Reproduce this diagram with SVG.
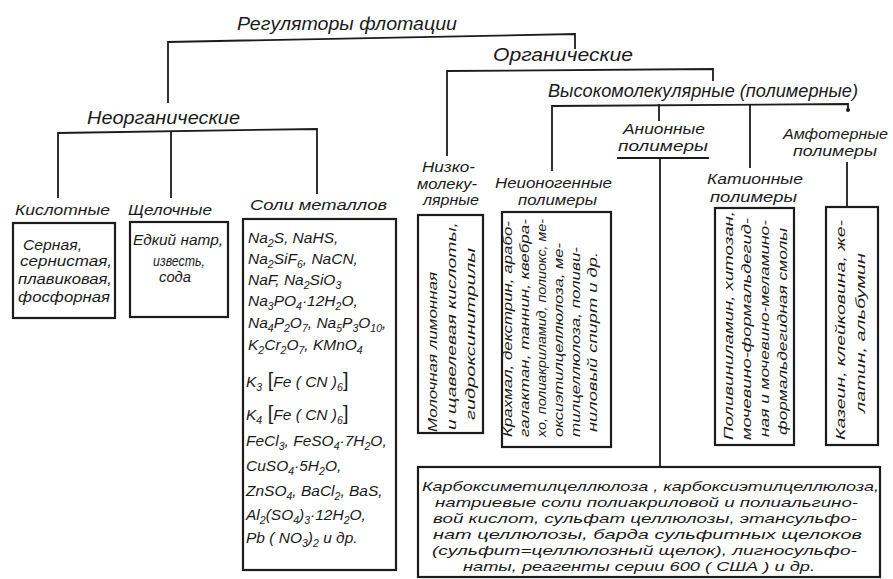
<svg xmlns="http://www.w3.org/2000/svg" width="893" height="579" viewBox="0 0 893 579">
  <style>
    .t { font-family: "Liberation Sans", "DejaVu Sans", sans-serif; font-style: italic; fill: #1a1a1a; }
    .h { font-size: 18px; }
    .m { font-size: 15px; }
    .s { font-size: 14px; }
    .b { font-size: 13px; }
    .f { font-size: 15.5px; }
    .v { font-size: 13px; }
    .sb { font-size: 10.5px; }
    .br { font-size: 20px; font-style: normal; }
    .ln { stroke: #1c1c1c; stroke-width: 1.8; fill: none; stroke-linecap: square; }
    .box { stroke: #1c1c1c; stroke-width: 2.2; fill: none; }
  </style>
  <rect width="893" height="579" fill="#ffffff"/>

  <!-- connectors -->
  <g id="connectors">
    <!-- root bracket -->
    <polyline class="ln" points="168,102 168,42 575,34 575,48"/>
    <!-- inorganic bracket -->
    <polyline class="ln" points="58,197 58,133 317,129 317,193"/>
    <line class="ln" x1="171" y1="132" x2="171" y2="197"/>
    <!-- organic bracket -->
    <polyline class="ln" points="447,155 447,71 713,69 713,80"/>
    <!-- high-molecular bracket -->
    <polyline class="ln" points="552,170 552,106 848,104 848,110"/>
    <line class="ln" x1="659" y1="105" x2="659" y2="120"/>
    <line class="ln" x1="750" y1="105" x2="750" y2="167"/>
    <circle cx="848" cy="110" r="2" fill="#1c1c1c"/>
    <!-- anionic underline and stem -->
    <line class="ln" x1="618" y1="158" x2="708" y2="158"/>
    <line class="ln" x1="660" y1="158" x2="660" y2="467"/>
    <!-- amphoteric stem -->
    <line class="ln" x1="847" y1="163" x2="847" y2="207"/>
  </g>

  <!-- headings -->
  <g id="root">
    <text class="t h" x="237" y="30" textLength="220" lengthAdjust="spacingAndGlyphs">Регуляторы   флотации</text>
  </g>
  <g id="inorganic">
    <text class="t h" x="87" y="124" textLength="153" lengthAdjust="spacingAndGlyphs">Неорганические</text>
  </g>
  <g id="organic">
    <text class="t h" x="493" y="61" textLength="140" lengthAdjust="spacingAndGlyphs">Органические</text>
  </g>
  <g id="highmol">
    <text class="t h" x="548" y="97" textLength="310" lengthAdjust="spacingAndGlyphs">Высокомолекулярные (полимерные)</text>
  </g>

  <!-- acids -->
  <g id="acids">
    <text class="t m" x="15" y="215" textLength="95" lengthAdjust="spacingAndGlyphs">Кислотные</text>
    <rect class="box" x="13" y="223" width="102" height="95"/>
    <text class="t s" x="23" y="250" textLength="59" lengthAdjust="spacingAndGlyphs">Серная,</text>
    <text class="t s" x="20" y="266" textLength="92" lengthAdjust="spacingAndGlyphs">сернистая,</text>
    <text class="t s" x="18" y="284" textLength="94" lengthAdjust="spacingAndGlyphs">плавиковая,</text>
    <text class="t s" x="18" y="302" textLength="92" lengthAdjust="spacingAndGlyphs">фосфорная</text>
  </g>

  <!-- alkalis -->
  <g id="alkalis">
    <text class="t m" x="128" y="215" textLength="84" lengthAdjust="spacingAndGlyphs">Щелочные</text>
    <rect class="box" x="130" y="222" width="98" height="95"/>
    <text class="t s" x="133" y="245" textLength="90" lengthAdjust="spacingAndGlyphs">Едкий натр,</text>
    <text class="t s" x="153" y="266" textLength="52" lengthAdjust="spacingAndGlyphs">известь,</text>
    <text class="t s" x="159" y="282" textLength="32" lengthAdjust="spacingAndGlyphs">сода</text>
  </g>

  <!-- metal salts -->
  <g id="salts">
    <text class="t m" x="250" y="210" textLength="137" lengthAdjust="spacingAndGlyphs">Соли металлов</text>
    <rect class="box" x="243" y="219" width="153" height="351"/>
    <text class="t f" x="248" y="243">Na<tspan class="sb" dy="4">2</tspan><tspan dy="-4">S, NaHS,</tspan></text>
    <text class="t f" x="248" y="264">Na<tspan class="sb" dy="4">2</tspan><tspan dy="-4">SiF</tspan><tspan class="sb" dy="4">6</tspan><tspan dy="-4">, NaCN,</tspan></text>
    <text class="t f" x="248" y="285">NaF, Na<tspan class="sb" dy="4">2</tspan><tspan dy="-4">SiO</tspan><tspan class="sb" dy="4">3</tspan></text>
    <text class="t f" x="248" y="306">Na<tspan class="sb" dy="4">3</tspan><tspan dy="-4">PO</tspan><tspan class="sb" dy="4">4</tspan><tspan dy="-4">·12H</tspan><tspan class="sb" dy="4">2</tspan><tspan dy="-4">O,</tspan></text>
    <text class="t f" x="248" y="328">Na<tspan class="sb" dy="4">4</tspan><tspan dy="-4">P</tspan><tspan class="sb" dy="4">2</tspan><tspan dy="-4">O</tspan><tspan class="sb" dy="4">7</tspan><tspan dy="-4">, Na</tspan><tspan class="sb" dy="4">5</tspan><tspan dy="-4">P</tspan><tspan class="sb" dy="4">3</tspan><tspan dy="-4">O</tspan><tspan class="sb" dy="4">10</tspan><tspan dy="-4">,</tspan></text>
    <text class="t f" x="248" y="350">K<tspan class="sb" dy="4">2</tspan><tspan dy="-4">Cr</tspan><tspan class="sb" dy="4">2</tspan><tspan dy="-4">O</tspan><tspan class="sb" dy="4">7</tspan><tspan dy="-4">, KMnO</tspan><tspan class="sb" dy="4">4</tspan></text>
    <text class="t f" x="246" y="387">K<tspan class="sb" dy="4">3</tspan><tspan dy="-4" class="br"> [</tspan><tspan>Fe ( CN )</tspan><tspan class="sb" dy="4">6</tspan><tspan dy="-4" class="br">]</tspan></text>
    <text class="t f" x="246" y="420">K<tspan class="sb" dy="4">4</tspan><tspan dy="-4" class="br"> [</tspan><tspan>Fe ( CN )</tspan><tspan class="sb" dy="4">6</tspan><tspan dy="-4" class="br">]</tspan></text>
    <text class="t f" x="246" y="446">FeCl<tspan class="sb" dy="4">3</tspan><tspan dy="-4">, FeSO</tspan><tspan class="sb" dy="4">4</tspan><tspan dy="-4">·7H</tspan><tspan class="sb" dy="4">2</tspan><tspan dy="-4">O,</tspan></text>
    <text class="t f" x="246" y="471">CuSO<tspan class="sb" dy="4">4</tspan><tspan dy="-4">·5H</tspan><tspan class="sb" dy="4">2</tspan><tspan dy="-4">O,</tspan></text>
    <text class="t f" x="246" y="496">ZnSO<tspan class="sb" dy="4">4</tspan><tspan dy="-4">, BaCl</tspan><tspan class="sb" dy="4">2</tspan><tspan dy="-4">, BaS,</tspan></text>
    <text class="t f" x="246" y="520">Al<tspan class="sb" dy="4">2</tspan><tspan dy="-4">(SO</tspan><tspan class="sb" dy="4">4</tspan><tspan dy="-4">)</tspan><tspan class="sb" dy="4">3</tspan><tspan dy="-4">·12H</tspan><tspan class="sb" dy="4">2</tspan><tspan dy="-4">O,</tspan></text>
    <text class="t f" x="246" y="543">Pb ( NO<tspan class="sb" dy="4">3</tspan><tspan dy="-4">)</tspan><tspan class="sb" dy="4">2</tspan><tspan dy="-4"> и  др.</tspan></text>
  </g>

  <!-- low-molecular -->
  <g id="lowmol">
    <text class="t s" x="422" y="172" textLength="53" lengthAdjust="spacingAndGlyphs">Низко-</text>
    <text class="t s" x="417" y="189" textLength="60" lengthAdjust="spacingAndGlyphs">молеку-</text>
    <text class="t s" x="423" y="205" textLength="56" lengthAdjust="spacingAndGlyphs">лярные</text>
    <rect class="box" x="418" y="215" width="65" height="218"/>
    <text class="t v" transform="translate(437,432) rotate(-90)" textLength="160" lengthAdjust="spacingAndGlyphs">Молочная   лимонная</text>
    <text class="t v" transform="translate(456,430) rotate(-90)" textLength="208" lengthAdjust="spacingAndGlyphs">и щавелевая кислоты,</text>
    <text class="t v" transform="translate(475,420) rotate(-90)" textLength="172" lengthAdjust="spacingAndGlyphs">гидроксинитрилы</text>
  </g>

  <!-- non-ionic polymers -->
  <g id="nonionic">
    <text class="t s" x="495" y="188" textLength="117" lengthAdjust="spacingAndGlyphs">Неионогенные</text>
    <text class="t s" x="518" y="205" textLength="79" lengthAdjust="spacingAndGlyphs">полимеры</text>
    <rect class="box" x="502" y="212" width="109" height="235"/>
    <text class="t v" transform="translate(512,437) rotate(-90)" textLength="216" lengthAdjust="spacingAndGlyphs">Крахмал, декстрин, арабо-</text>
    <text class="t v" transform="translate(529,437) rotate(-90)" textLength="218" lengthAdjust="spacingAndGlyphs">галактан, таннин, квебра-</text>
    <text class="t v" transform="translate(546,437) rotate(-90)" textLength="218" lengthAdjust="spacingAndGlyphs">хо, полиакриламид, полиокс, ме-</text>
    <text class="t v" transform="translate(563,437) rotate(-90)" textLength="194" lengthAdjust="spacingAndGlyphs">оксиэтилцеллюлоза, ме-</text>
    <text class="t v" transform="translate(580,437) rotate(-90)" textLength="190" lengthAdjust="spacingAndGlyphs">тилцеллюлоза, поливи-</text>
    <text class="t v" transform="translate(597,432) rotate(-90)" textLength="180" lengthAdjust="spacingAndGlyphs">ниловый спирт и др.</text>
  </g>

  <!-- anionic polymers -->
  <g id="anionic">
    <text class="t s" x="623" y="134" textLength="82" lengthAdjust="spacingAndGlyphs">Анионные</text>
    <text class="t s" x="618" y="151" textLength="90" lengthAdjust="spacingAndGlyphs">полимеры</text>
  </g>

  <!-- cationic polymers -->
  <g id="cationic">
    <text class="t s" x="707" y="184" textLength="96" lengthAdjust="spacingAndGlyphs">Катионные</text>
    <text class="t s" x="710" y="202" textLength="87" lengthAdjust="spacingAndGlyphs">полимеры</text>
    <rect class="box" x="715" y="208" width="79" height="237"/>
    <text class="t v" transform="translate(733,440) rotate(-90)" textLength="229" lengthAdjust="spacingAndGlyphs">Поливиниламин, хитозан,</text>
    <text class="t v" transform="translate(751,440) rotate(-90)" textLength="222" lengthAdjust="spacingAndGlyphs">мочевино-формальдегид-</text>
    <text class="t v" transform="translate(769,437) rotate(-90)" textLength="217" lengthAdjust="spacingAndGlyphs">ная и мочевино-меламино-</text>
    <text class="t v" transform="translate(787,435) rotate(-90)" textLength="207" lengthAdjust="spacingAndGlyphs">формальдегидная смолы</text>
  </g>

  <!-- amphoteric polymers -->
  <g id="amphoteric">
    <text class="t s" x="783" y="139" textLength="105" lengthAdjust="spacingAndGlyphs">Амфотерные</text>
    <text class="t s" x="793" y="156" textLength="84" lengthAdjust="spacingAndGlyphs">полимеры</text>
    <rect class="box" x="826" y="207" width="52" height="238"/>
    <text class="t v" transform="translate(845,440) rotate(-90)" textLength="220" lengthAdjust="spacingAndGlyphs">Казеин, клейковина, же-</text>
    <text class="t v" transform="translate(865,413) rotate(-90)" textLength="160" lengthAdjust="spacingAndGlyphs">латин, альбумин</text>
  </g>

  <!-- anionic polymer list -->
  <g id="anionic-list">
    <rect class="box" x="418" y="467" width="462" height="110"/>
    <text class="t b" x="422" y="491" textLength="457" lengthAdjust="spacingAndGlyphs">Карбоксиметилцеллюлоза , карбоксиэтилцеллюлоза,</text>
    <text class="t b" x="435" y="507" textLength="423" lengthAdjust="spacingAndGlyphs">натриевые соли полиакриловой и полиальгино-</text>
    <text class="t b" x="433" y="523" textLength="424" lengthAdjust="spacingAndGlyphs">вой кислот, сульфат целлюлозы, этансульфо-</text>
    <text class="t b" x="433" y="539" textLength="429" lengthAdjust="spacingAndGlyphs">нат целлюлозы, барда сульфитных щелоков</text>
    <text class="t b" x="432" y="555" textLength="425" lengthAdjust="spacingAndGlyphs">(сульфит=целлюлозный щелок), лигносульфо-</text>
    <text class="t b" x="463" y="571" textLength="352" lengthAdjust="spacingAndGlyphs">наты, реагенты серии 600 ( США )  и  др.</text>
  </g>
</svg>
